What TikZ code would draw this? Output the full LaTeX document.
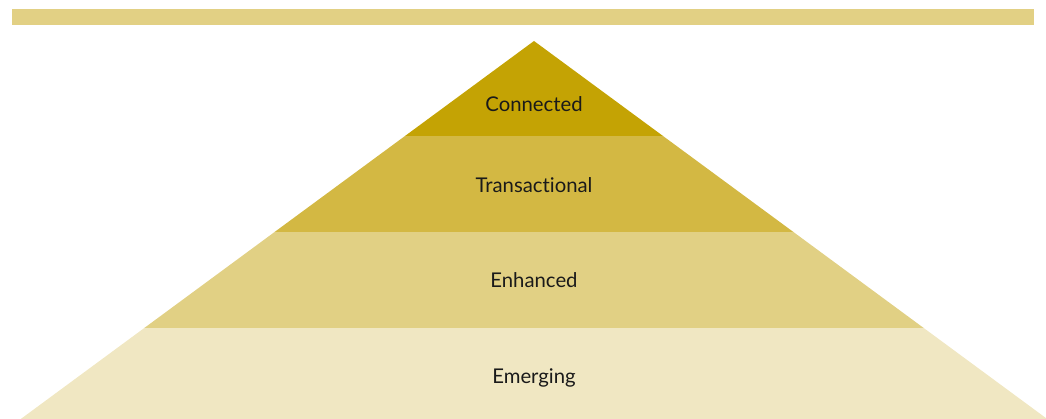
\documentclass[tikz,border=0pt]{standalone}
\usepackage{fontspec}
\setmainfont{Lato}[Ligatures=NoCommon]
\definecolor{goldA}{HTML}{C4A304}
\definecolor{goldB}{HTML}{D3B843}
\definecolor{goldC}{HTML}{E1D084}
\definecolor{goldD}{HTML}{F0E7C2}
\definecolor{barcol}{HTML}{E2D084}
\definecolor{labelcol}{HTML}{1A1A1A}
\tikzset{
  layer/.style={draw=none},
  layerlabel/.style={text=labelcol, font=\fontsize{20.3}{23}\selectfont, inner sep=0pt}
}
\begin{document}
\begin{tikzpicture}[x=1pt, y=-1pt]
    \useasboundingbox (0,0) rectangle (1046,419);
    \clip (0,0) rectangle (1046,419);
    % Top bar
    \fill[barcol] (12,9) rectangle (1034,25);

    % Pyramid layers (bottom to top)
    \fill[layer, goldD] (144.3,328) -- (923.7,328) -- (1054,424) -- (14,424) -- cycle;
    \fill[layer, goldC] (274.6,232) -- (793.4,232) -- (923.7,328) -- (144.3,328) -- cycle;
    \fill[layer, goldB] (405,136) -- (663,136) -- (793.4,232) -- (274.6,232) -- cycle;
    \fill[layer, goldA] (534,41) -- (663,136) -- (405,136) -- cycle;

    % Labels
    \node[layerlabel] (connected) at (534,104.5) {Connected};
    \node[layerlabel] (transactional) at (534,185.5) {Transactional};
    \node[layerlabel] (enhanced) at (534,280.5) {Enhanced};
    \node[layerlabel] (emerging) at (534,377.5) {Emerging};
\end{tikzpicture}
\end{document}
